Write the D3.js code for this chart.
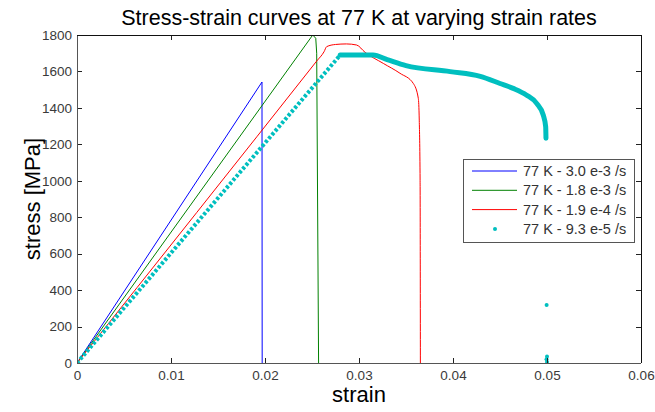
<!DOCTYPE html>
<html><head><meta charset="utf-8">
<script src="https://cdn.jsdelivr.net/npm/d3@7"></script>
<style>
html,body{margin:0;padding:0;background:#fff;}
svg{display:block;font-family:"Liberation Sans",Arial,sans-serif;}
</style></head>
<body>
<svg id="chart" width="655" height="412"></svg>
<script>
// ---- data ----
const strainTicks = [0, 0.01, 0.02, 0.03, 0.04, 0.05, 0.06];
const stressTicks = [0, 200, 400, 600, 800, 1000, 1200, 1400, 1600, 1800];
const seriesNames = ["77 K - 3.0 e-3 /s", "77 K - 1.8 e-3 /s", "77 K - 1.9 e-4 /s", "77 K - 9.3 e-5 /s"];
const seriesColors = ["#0000ff", "#008000", "#ff0000", "#00bfbf"];

const blueStrain = [0, 0.01968, 0.01970];
const blueStress = [0, 1542, 0];

const greenStrain = [0, 0.02508, 0.02540, 0.02550, 0.02570];
const greenStress = [0, 1800, 1782, 1700, 0];

const redStrain = [0, 0.0255, 0.02628, 0.02656, 0.0275, 0.02866, 0.02975, 0.03064, 0.03259, 0.03436, 0.03578, 0.03631, 0.03641, 0.03650, 0.03653];
const redStress = [0, 1657, 1708, 1736, 1748, 1751, 1745, 1705, 1644, 1590, 1534, 1452, 1333, 1000, 0];

// rising (sparsely sampled) part of the 9.3e-5 curve
const cyanRiseStrain = [0, 0.0280];
const cyanRiseStress = [0, 1690];
// densely sampled part
const cyanStrain = [0.0280, 0.0315, 0.0330, 0.0350, 0.0397, 0.0429, 0.0450, 0.0464, 0.0478, 0.0489, 0.0496, 0.04986, 0.04989];
const cyanStress = [1690, 1690, 1665, 1632, 1599, 1573, 1534, 1507, 1471, 1425, 1361, 1297, 1233];
// isolated points after failure
const cyanTailStrain = [0.04996, 0.05000, 0.04995, 0.05000];
const cyanTailStress = [318, 35, 20, 5];

// ---- layout ----
const svg = d3.select("#chart");
const L = 77, R = 641, T = 35, B = 363;
const x = d3.scaleLinear().domain([0, 0.06]).range([L, R]);
const y = d3.scaleLinear().domain([0, 1800]).range([B, T]);

const zip = (xs, ys) => xs.map((v, i) => [v, ys[i]]);
const line = d3.line().x(d => x(d[0])).y(d => y(d[1]));
const smooth = d3.line().x(d => x(d[0])).y(d => y(d[1])).curve(d3.curveMonotoneX);

// clip
svg.append("defs").append("clipPath").attr("id", "clip")
  .append("rect").attr("x", L).attr("y", T - 1).attr("width", R - L).attr("height", B - T + 2);

const plot = svg.append("g").attr("clip-path", "url(#clip)");

// axes
const tickLen = 5;
const fmtX = d => d === 0 ? "0" : d3.format(".2f")(d);
const gx = svg.append("g").attr("transform", `translate(0,${B})`)
  .call(d3.axisBottom(x).tickValues(strainTicks).tickFormat(fmtX).tickSizeInner(-tickLen).tickSizeOuter(0).tickPadding(7));
const gxt = svg.append("g").attr("transform", `translate(0,${T})`)
  .call(d3.axisTop(x).tickValues(strainTicks).tickFormat("").tickSizeInner(-tickLen).tickSizeOuter(0));
const gy = svg.append("g").attr("transform", `translate(${L},0)`)
  .call(d3.axisLeft(y).tickValues(stressTicks).tickFormat(d3.format("d")).tickSizeInner(-tickLen).tickSizeOuter(0).tickPadding(5));
const gyr = svg.append("g").attr("transform", `translate(${R},0)`)
  .call(d3.axisRight(y).tickValues(stressTicks).tickFormat("").tickSizeInner(-tickLen).tickSizeOuter(0));

[gx, gxt, gy, gyr].forEach(g => {
  g.select(".domain").remove();
  g.selectAll(".tick line").attr("stroke", "#222").attr("shape-rendering", "crispEdges");
  g.selectAll("text").attr("fill", "#3a3a3a").style("font-size", "13.5px").style("font-family", "'Liberation Sans',Arial,sans-serif");
});

// data
plot.append("path").attr("d", line(zip(blueStrain, blueStress))).attr("fill", "none").attr("stroke", seriesColors[0]).attr("stroke-width", 1);
plot.append("path").attr("d", line(zip(greenStrain, greenStress))).attr("fill", "none").attr("stroke", seriesColors[1]).attr("stroke-width", 1);
plot.append("path").attr("d", smooth(zip(redStrain, redStress))).attr("fill", "none").attr("stroke", seriesColors[2]).attr("stroke-width", 1);

plot.append("path").attr("d", line(zip(cyanRiseStrain, cyanRiseStress))).attr("fill", "none")
  .attr("stroke", seriesColors[3]).attr("stroke-width", 4).attr("stroke-dasharray", "3 2");
plot.append("path").attr("d", smooth(zip(cyanStrain, cyanStress))).attr("fill", "none")
  .attr("stroke", seriesColors[3]).attr("stroke-width", 5).attr("stroke-linejoin", "round").attr("stroke-linecap", "round");
plot.selectAll("circle.tail").data(zip(cyanTailStrain, cyanTailStress)).enter().append("circle")
  .attr("cx", d => x(d[0])).attr("cy", d => y(d[1])).attr("r", 2).attr("fill", seriesColors[3]);

// frame
svg.append("line").attr("x1", L).attr("x2", L).attr("y1", T).attr("y2", B).attr("stroke", "#555").attr("shape-rendering", "crispEdges");
svg.append("line").attr("x1", L).attr("x2", R).attr("y1", B).attr("y2", B).attr("stroke", "#555").attr("shape-rendering", "crispEdges");
svg.append("line").attr("x1", L).attr("x2", R).attr("y1", T).attr("y2", T).attr("stroke", "#111").attr("shape-rendering", "crispEdges");
svg.append("line").attr("x1", R).attr("x2", R).attr("y1", T).attr("y2", B).attr("stroke", "#111").attr("shape-rendering", "crispEdges");

// titles
svg.append("text").attr("x", (L + R) / 2).attr("y", 25).attr("text-anchor", "middle")
  .style("font-size", "21.5px").attr("fill", "#000").text("Stress-strain curves at 77 K at varying strain rates");
svg.append("text").attr("x", (L + R) / 2).attr("y", 402).attr("text-anchor", "middle")
  .style("font-size", "22px").attr("fill", "#000").text("strain");
svg.append("text").attr("transform", `translate(40,${(T + B) / 2}) rotate(-90)`).attr("text-anchor", "middle")
  .style("font-size", "22px").attr("fill", "#000").text("stress [MPa]");

// legend
const lg = svg.append("g");
lg.append("rect").attr("x", 463.5).attr("y", 159.5).attr("width", 171).attr("height", 83)
  .attr("fill", "#fff").attr("stroke", "#555");
seriesNames.forEach((name, i) => {
  const cy = 171 + i * 19.3;
  if (i < 3) {
    lg.append("line").attr("x1", 472).attr("x2", 517).attr("y1", cy).attr("y2", cy)
      .attr("stroke", seriesColors[i]).attr("stroke-width", 1);
  } else {
    lg.append("circle").attr("cx", 495).attr("cy", cy).attr("r", 2).attr("fill", seriesColors[i]);
  }
  lg.append("text").attr("x", 523).attr("y", cy + 5).style("font-size", "14.5px").attr("fill", "#333").text(name);
});
</script>
</body></html>
